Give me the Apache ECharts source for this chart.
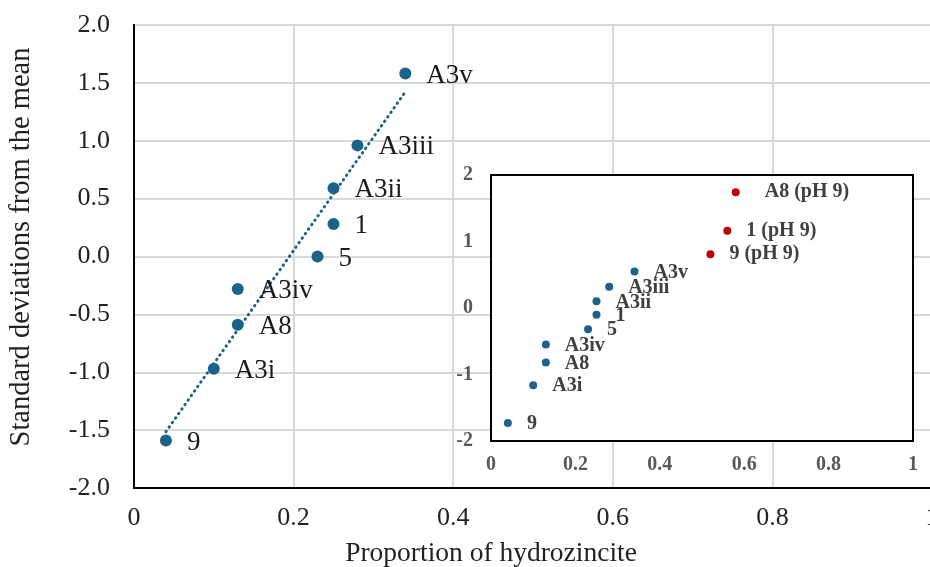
<!DOCTYPE html>
<html>
<head>
<meta charset="utf-8">
<script src="https://cdn.jsdelivr.net/npm/echarts@6/dist/echarts.min.js"></script>
<style>
html,body{margin:0;padding:0;background:#fff;}
#chart{width:930px;height:567px;}
</style>
</head>
<body>
<div id="chart"></div>
<script>
// ---- main chart data ----
const mainNames = ['A3v', 'A3iii', 'A3ii', '1', '5', 'A3iv', 'A8', 'A3i', '9'];
const mainX = [0.34, 0.28, 0.25, 0.25, 0.23, 0.13, 0.13, 0.10, 0.04];
const mainY = [1.58, 0.96, 0.59, 0.28, 0.00, -0.28, -0.59, -0.97, -1.59];

// ---- inset data ----
const insetNames = ['A3v', 'A3iii', 'A3ii', '1', '5', 'A3iv', 'A8', 'A3i', '9'];
const insetX = [0.34, 0.28, 0.25, 0.25, 0.23, 0.13, 0.13, 0.10, 0.04];
const insetY = [0.55, 0.32, 0.10, -0.10, -0.32, -0.55, -0.82, -1.16, -1.73];
const phNames = ['A8 (pH 9)', '1 (pH 9)', '9 (pH 9)'];
const phX = [0.58, 0.56, 0.52];
const phY = [1.74, 1.16, 0.81];

// ---- axis ticks ----
const mainXTicks = [0, 0.2, 0.4, 0.6, 0.8, 1];
const mainYTicks = [-2.0, -1.5, -1.0, -0.5, 0.0, 0.5, 1.0, 1.5, 2.0];
const insetXTicks = [0, 0.2, 0.4, 0.6, 0.8, 1];
const insetYTicks = [-2, -1, 0, 1, 2];

const xTitle = 'Proportion of hydrozincite';
const yTitle = 'Standard deviations from the mean';

// linear trendline (least squares) over the main data
function trend(xs, ys) {
  const n = xs.length;
  const mx = xs.reduce((a, b) => a + b, 0) / n;
  const my = ys.reduce((a, b) => a + b, 0) / n;
  let sxy = 0, sxx = 0;
  for (let i = 0; i < n; i++) { sxy += (xs[i] - mx) * (ys[i] - my); sxx += (xs[i] - mx) ** 2; }
  const b = sxy / sxx, a = my - b * mx;
  const x0 = Math.min(...xs), x1 = Math.max(...xs);
  return [[x0, a + b * x0], [x1, a + b * x1]];
}

const SERIF = '"Liberation Serif", "Times New Roman", serif';
const BLUE = '#1D6389';
const RED = '#C00000';

const zip = (xs, ys, names) => xs.map((x, i) => ({ value: [x, ys[i]], name: names[i] }));

const chart = echarts.init(document.getElementById('chart'), null, { renderer: 'canvas' });
chart.setOption({
  backgroundColor: '#fff',
  animation: false,
  grid: [
    { left: 134, top: 25, width: 798, height: 463, outerBoundsMode: 'none', containLabel: false,
      show: true, borderColor: '#000', borderWidth: 2, backgroundColor: 'transparent', z: 0 },
    { left: 491, top: 175, width: 422, height: 266, outerBoundsMode: 'none', containLabel: false,
      show: true, borderColor: '#000', borderWidth: 2, backgroundColor: '#fff', z: 5 }
  ],
  xAxis: [
    {
      gridIndex: 0, type: 'value', min: mainXTicks[0], max: mainXTicks[mainXTicks.length - 1], interval: 0.2,
      axisLine: { show: true, onZero: false, lineStyle: { color: '#000', width: 2 } },
      axisTick: { show: false },
      splitLine: { show: true, lineStyle: { color: '#d9d9d9', width: 2 } },
      axisLabel: { margin: 17, fontFamily: SERIF, fontSize: 26, color: '#222', showMaxLabel: true,
        formatter: v => String(+v.toFixed(1)) }
    },
    {
      gridIndex: 1, type: 'value', min: insetXTicks[0], max: insetXTicks[insetXTicks.length - 1], interval: 0.2, z: 6,
      axisLine: { show: false, onZero: false }, axisTick: { show: false }, splitLine: { show: false },
      axisLabel: { margin: 14, fontFamily: SERIF, fontSize: 20, fontWeight: 'bold', color: '#595959',
        formatter: v => String(+v.toFixed(1)) }
    }
  ],
  yAxis: [
    {
      gridIndex: 0, type: 'value', min: mainYTicks[0], max: mainYTicks[mainYTicks.length - 1], interval: 0.5,
      axisLine: { show: true, onZero: false, lineStyle: { color: '#000', width: 2 } },
      axisTick: { show: false },
      splitLine: { show: true, lineStyle: { color: '#d9d9d9', width: 2 } },
      axisLabel: { margin: 24, fontFamily: SERIF, fontSize: 26, color: '#222', formatter: v => v.toFixed(1) }
    },
    {
      gridIndex: 1, type: 'value', min: insetYTicks[0], max: insetYTicks[insetYTicks.length - 1], interval: 1, z: 6,
      axisLine: { show: false, onZero: false }, axisTick: { show: false }, splitLine: { show: false },
      axisLabel: { margin: 18, fontFamily: SERIF, fontSize: 20, fontWeight: 'bold', color: '#595959',
        formatter: v => String(v) }
    }
  ],
  series: [
    {
      type: 'line', xAxisIndex: 0, yAxisIndex: 0, data: trend(mainX, mainY), symbol: 'none', z: 1,
      lineStyle: { color: BLUE, width: 3, type: [0.5, 5], cap: 'round', opacity: 1 }
    },
    {
      type: 'scatter', xAxisIndex: 0, yAxisIndex: 0, data: zip(mainX, mainY, mainNames), symbolSize: 12, z: 2,
      itemStyle: { color: BLUE, opacity: 1 },
      label: { show: true, position: 'right', distance: 15, offset: [0, 2], formatter: p => p.name,
        fontFamily: SERIF, fontSize: 27, color: '#1a1a1a' }
    },
    {
      type: 'scatter', xAxisIndex: 1, yAxisIndex: 1, data: zip(insetX, insetY, insetNames), symbolSize: 8, z: 7,
      itemStyle: { color: BLUE, opacity: 1 },
      label: { show: true, position: 'right', distance: 15, offset: [0, 1], formatter: p => p.name,
        fontFamily: SERIF, fontSize: 20, fontWeight: 'bold', color: '#404040' }
    },
    {
      type: 'scatter', xAxisIndex: 1, yAxisIndex: 1, data: zip(phX, phY, phNames), symbolSize: 8, z: 7,
      itemStyle: { color: RED, opacity: 1 },
      label: { show: true, position: 'right', distance: 15, offset: [0, 1], formatter: p => p.name,
        fontFamily: SERIF, fontSize: 20, fontWeight: 'bold', color: '#404040' },
      labelLayout: p => (p.text === phNames[0] ? { dx: 10 } : {})
    }
  ],
  graphic: [
    { type: 'text', x: 491, y: 554, z: 10,
      style: { text: xTitle, font: '27.5px ' + SERIF, fill: '#222', textAlign: 'center', textVerticalAlign: 'middle', verticalAlign: 'middle' } },
    { type: 'text', x: 22, y: 247, rotation: Math.PI / 2, z: 10,
      style: { text: yTitle, font: '28.5px ' + SERIF, fill: '#222', textAlign: 'center', textVerticalAlign: 'middle', verticalAlign: 'middle' } }
  ]
});
</script>
</body>
</html>
